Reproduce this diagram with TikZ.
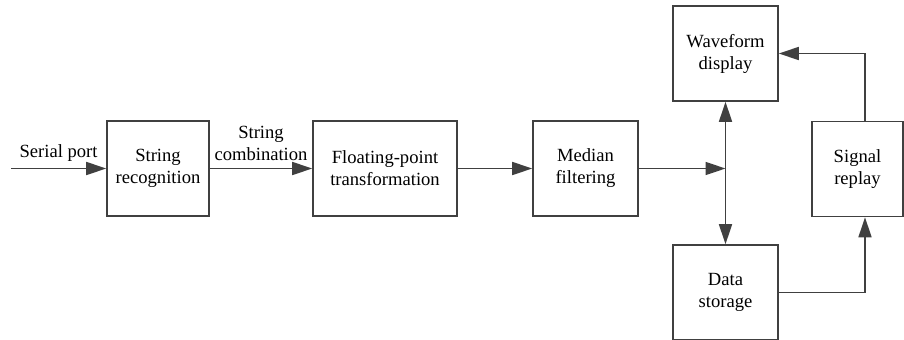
\documentclass[tikz,border=0pt]{standalone}
\usepackage{fontspec}
\setmainfont{Liberation Serif}
\usetikzlibrary{arrows.meta}
\definecolor{linegray}{HTML}{404040}
\tikzset{
	block/.style={draw=linegray, line width=0.8pt, minimum width=51pt, minimum height=47.5pt, align=center},
	flow/.style={draw=linegray, line width=0.8pt, -{Triangle[length=10pt,width=6.5pt]}},
}
\begin{document}
\begin{tikzpicture}[x=0.5pt, y=-0.5pt, font=\rmfamily\fontsize{9.3}{11}\selectfont]
		\useasboundingbox (0,0) rectangle (904,339);

		\node[block] (recog) at (158,168.5) {String\\recognition};
		\node[block, minimum width=72pt] (float) at (385,168.5) {Floating-point\\transformation};
		\node[block, minimum width=52.5pt] (median) at (585.5,168.5) {Median\\filtering};
		\node[block, minimum width=52.5pt] (wave) at (725.5,53.5) {Waveform\\display};
		\node[block, minimum width=52.5pt] (store) at (725.5,292.5) {Data\\storage};
		\node[block, minimum width=45.5pt] (replay) at (857.5,169) {Signal\\replay};

		\coordinate (serial) at (11,168.5);
		\coordinate (join) at (wave.south |- median);
		\coordinate (tap) at (865,0);

		\draw[flow] (serial) -- (recog) node[above, midway]{Serial port};
		\draw[flow] (recog) -- (float) node[above, midway, align=center]{String\\combination};
		\draw[flow] (float) -- (median);
		\draw[flow] (median) -- (join);
		\draw[flow, {Triangle[length=10pt,width=6.5pt]}-{Triangle[length=10pt,width=6.5pt]}] (wave) -- (store);
		\draw[flow] (replay.north -| tap) |- (wave);
		\draw[flow] (store) -| (replay.south -| tap);
	\end{tikzpicture}
\end{document}
